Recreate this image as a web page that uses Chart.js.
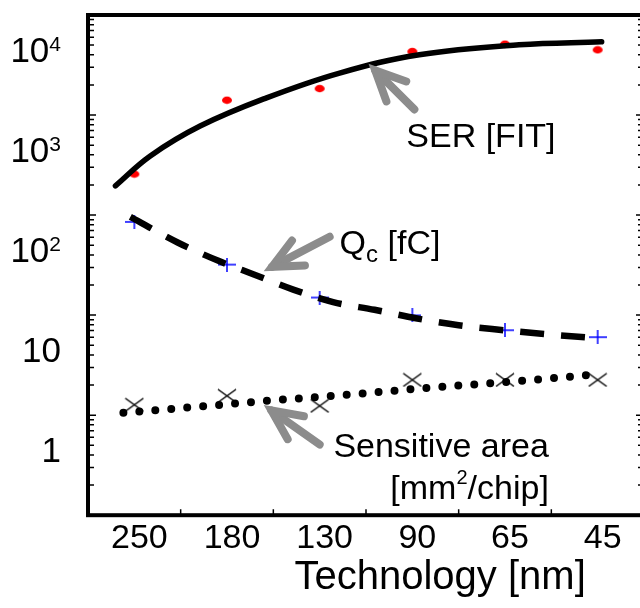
<!DOCTYPE html>
<html>
<head>
<meta charset="utf-8">
<script src="https://cdn.jsdelivr.net/npm/chart.js@4.4.1/dist/chart.umd.min.js"></script>
<style>
  html, body { margin: 0; padding: 0; background: #fff; overflow: hidden; }
  #wrap { width: 650px; height: 608px; }
</style>
</head>
<body>
<div id="wrap"><canvas id="myChart" width="650" height="608"></canvas></div>
<script>
// technology nodes
const nodes = ["250", "180", "130", "90", "65", "45"];

// measured points, one per node
const serPoints = [257, 1406, 1837, 4316, 5114, 4487];
const qcPoints = [85.5, 32.0, 15.0, 9.95, 7.06, 6.02];
const areaPoints = [1.27, 1.56, 1.24, 2.25, 2.25, 2.25];

// trend lines (x in node index units)
const serFitX = [-0.204, 0.172, 0.71, 1.427, 2.215, 3.075, 4.151, 5.043];
const serFitY = [196, 390, 776, 1486, 2630, 4000, 5035, 5393];
const qcFitX = [-0.043, 0.473, 0.914, 1.29, 1.715, 2.145, 2.591, 3.038, 3.5, 3.935, 4.392, 4.989];
const qcFitY = [95.9, 52.9, 34.7, 25.5, 18.0, 13.5, 11.3, 9.3, 7.92, 7.14, 6.51, 5.88];
const areaFitX = [-0.118, 0.57, 1.43, 2.29, 3.151, 4.172, 5.032];
const areaFitY = [1.06, 1.19, 1.39, 1.60, 1.87, 2.20, 2.58];

// y axis
const yMin = 0.1;
const yMax = 10000;
const yDecades = [0.1, 1, 10, 100, 1000];
const yMinorSteps = [2, 3, 4, 5, 6, 7, 8, 9];
const yLabelValues = [1, 10, 100, 1000, 10000];
const yLabelBase = ["1", "10", "10", "10", "10"];
const yLabelExp = ["", "", "2", "3", "4"];

// arrows: tip and tail in data units
const arrowTipX = [2.538, 1.409, 1.409];
const arrowTipY = [3184, 27.9, 1.24];
const arrowTailX = [3.022, 2.108, 2.0];
const arrowTailY = [1138, 60.7, 0.508];

const xTitle = "Technology [nm]";
const FONT = "'Liberation Sans', Arial, sans-serif";

function zip(xs, ys) {
  return xs.map(function (v, i) {
    return { x: v, y: ys[i] };
  });
}

function marker(w, h, draw) {
  const c = document.createElement("canvas");
  c.width = w;
  c.height = h;
  draw(c.getContext("2d"), w, h);
  return c;
}

const redDot = marker(12, 9, function (g, w, h) {
  g.fillStyle = "#ff0000";
  g.beginPath();
  g.ellipse(w / 2, h / 2, 5, 3.7, 0, 0, Math.PI * 2);
  g.fill();
});
const bluePlus = marker(18, 14, function (g, w, h) {
  g.strokeStyle = "#0000ff";
  g.lineWidth = 1.5;
  g.beginPath();
  g.moveTo(0, h / 2);
  g.lineTo(w, h / 2);
  g.moveTo(w / 2, 0);
  g.lineTo(w / 2, h);
  g.stroke();
});
const blackX = marker(20, 15, function (g, w, h) {
  g.strokeStyle = "#000";
  g.lineWidth = 1.5;
  g.beginPath();
  g.moveTo(1, 1);
  g.lineTo(w - 1, h - 1);
  g.moveTo(w - 1, 1);
  g.lineTo(1, h - 1);
  g.stroke();
});

function drawArrow(ctx, tx, ty, sx, sy) {
  const ang = Math.atan2(sy - ty, sx - tx);
  const ax = tx + 8 * Math.cos(ang);
  const ay = ty + 8 * Math.sin(ang);
  const arm = 33;
  const spread = 0.44;
  ctx.beginPath();
  ctx.moveTo(sx, sy);
  ctx.lineTo(ax, ay);
  ctx.stroke();
  ctx.beginPath();
  ctx.moveTo(ax + arm * Math.cos(ang - spread), ay + arm * Math.sin(ang - spread));
  ctx.lineTo(ax, ay);
  ctx.lineTo(ax + arm * Math.cos(ang + spread), ay + arm * Math.sin(ang + spread));
  ctx.stroke();
}

const decor = {
  id: "decor",
  afterDatasetsDraw(chart) {
    const ctx = chart.ctx;
    const a = chart.chartArea;
    const x = chart.scales.x;
    const y = chart.scales.y;
    ctx.save();
    ctx.strokeStyle = "#000";
    ctx.lineWidth = 1.5;
    ctx.beginPath();
    yDecades.forEach(function (d) {
      const py = y.getPixelForValue(d);
      ctx.moveTo(a.left, py);
      ctx.lineTo(a.left + 8, py);
      ctx.moveTo(a.right, py);
      ctx.lineTo(a.right - 8, py);
      yMinorSteps.forEach(function (k) {
        const pm = y.getPixelForValue(d * k);
        ctx.moveTo(a.left, pm);
        ctx.lineTo(a.left + 6, pm);
        ctx.moveTo(a.right, pm);
        ctx.lineTo(a.right - 6, pm);
      });
    });
    for (let i = 0; i < nodes.length - 1; i++) {
      const px = (x.getPixelForValue(i) + x.getPixelForValue(i + 1)) / 2;
      ctx.moveTo(px, a.bottom);
      ctx.lineTo(px, a.bottom - 6);
    }
    ctx.stroke();
    ctx.lineWidth = 4;
    ctx.strokeRect(a.left, a.top, a.right - a.left, a.bottom - a.top);
    ctx.restore();
  },
  afterDraw(chart) {
    const ctx = chart.ctx;
    const a = chart.chartArea;
    const xf = chart.scales.xf;
    const y = chart.scales.y;
    ctx.save();
    ctx.fillStyle = "#000";

    // y tick labels, 10^n with raised exponent
    ctx.textBaseline = "middle";
    ctx.textAlign = "left";
    yLabelValues.forEach(function (v, i) {
      const py = y.getPixelForValue(v) + 37;
      ctx.font = "35px " + FONT;
      const wb = ctx.measureText(yLabelBase[i]).width;
      ctx.font = "21px " + FONT;
      const we = yLabelExp[i] ? ctx.measureText(yLabelExp[i]).width : 0;
      const x0 = a.left - 27 - wb - we;
      ctx.font = "35px " + FONT;
      ctx.fillText(yLabelBase[i], x0, py);
      if (yLabelExp[i]) {
        ctx.font = "21px " + FONT;
        ctx.fillText(yLabelExp[i], x0 + wb, py - 7);
      }
    });

    // axis title
    ctx.textBaseline = "alphabetic";
    ctx.textAlign = "center";
    ctx.font = "40px " + FONT;
    ctx.fillText(xTitle, xf.getPixelForValue(3.30), a.bottom + 74);

    // arrows
    ctx.strokeStyle = "#8c8c8c";
    ctx.lineWidth = 8;
    ctx.lineCap = "round";
    ctx.lineJoin = "miter";
    arrowTipX.forEach(function (tx, i) {
      drawArrow(ctx,
        xf.getPixelForValue(tx), y.getPixelForValue(arrowTipY[i]),
        xf.getPixelForValue(arrowTailX[i]), y.getPixelForValue(arrowTailY[i]));
    });

    // series names
    ctx.textAlign = "left";
    ctx.font = "34px " + FONT;
    ctx.fillText("SER [FIT]", xf.getPixelForValue(2.935), y.getPixelForValue(476));

    let qx = xf.getPixelForValue(2.215);
    const qy = y.getPixelForValue(41.1);
    ctx.fillText("Q", qx, qy);
    qx += ctx.measureText("Q").width;
    ctx.font = "24px " + FONT;
    ctx.fillText("c", qx, qy + 8);
    qx += ctx.measureText("c").width;
    ctx.font = "34px " + FONT;
    ctx.fillText(" [fC]", qx, qy);

    const rx = xf.getPixelForValue(4.473);
    ctx.textAlign = "right";
    ctx.fillText("Sensitive area", rx, y.getPixelForValue(0.386));
    const by = y.getPixelForValue(0.144);
    ctx.textAlign = "left";
    const w1 = ctx.measureText("[mm").width;
    const w3 = ctx.measureText("/chip]").width;
    ctx.font = "20px " + FONT;
    const w2 = ctx.measureText("2").width;
    let sx = rx - w1 - w2 - w3;
    ctx.font = "34px " + FONT;
    ctx.fillText("[mm", sx, by);
    sx += w1;
    ctx.font = "20px " + FONT;
    ctx.fillText("2", sx, by - 15);
    sx += w2;
    ctx.font = "34px " + FONT;
    ctx.fillText("/chip]", sx, by);
    ctx.restore();
  }
};

const ctx = document.getElementById("myChart");
new Chart(ctx, {
  type: "line",
  data: {
    labels: nodes,
    datasets: [
      {
        data: zip(serFitX, serFitY),
        xAxisID: "xf",
        borderColor: "#000",
        borderWidth: 5.5,
        borderCapStyle: "round",
        tension: 0.4,
        pointRadius: 0,
      },
      {
        data: zip(qcFitX, qcFitY),
        xAxisID: "xf",
        borderColor: "#000",
        borderWidth: 6.5,
        borderDash: [24, 17],
        borderCapStyle: "butt",
        cubicInterpolationMode: "monotone",
        pointRadius: 0,
      },
      {
        data: zip(areaFitX, areaFitY),
        xAxisID: "xf",
        borderColor: "#000",
        borderWidth: 8,
        borderDash: [0, 16],
        borderCapStyle: "round",
        cubicInterpolationMode: "monotone",
        pointRadius: 0,
      },
      { data: serPoints, showLine: false, pointStyle: redDot, pointRadius: 5 },
      { data: qcPoints, showLine: false, pointStyle: bluePlus, pointRadius: 5 },
      { data: areaPoints, showLine: false, pointStyle: blackX, pointRadius: 5 },
    ],
  },
  options: {
    responsive: false,
    animation: false,
    devicePixelRatio: 1,
    layout: { padding: { left: 88, right: 4, top: 15, bottom: 46 } },
    plugins: { legend: { display: false }, tooltip: { enabled: false } },
    scales: {
      x: {
        type: "category",
        offset: true,
        grid: { display: false, drawTicks: false },
        border: { display: false },
        ticks: {
          color: "#000",
          font: { family: FONT, size: 34 },
          padding: 3,
          labelOffset: 5,
          maxRotation: 0,
          autoSkip: false,
        },
      },
      xf: { type: "linear", display: false, min: -0.5, max: 5.5 },
      y: { type: "logarithmic", display: false, min: yMin, max: yMax },
    },
  },
  plugins: [decor],
});
</script>
</body>
</html>
